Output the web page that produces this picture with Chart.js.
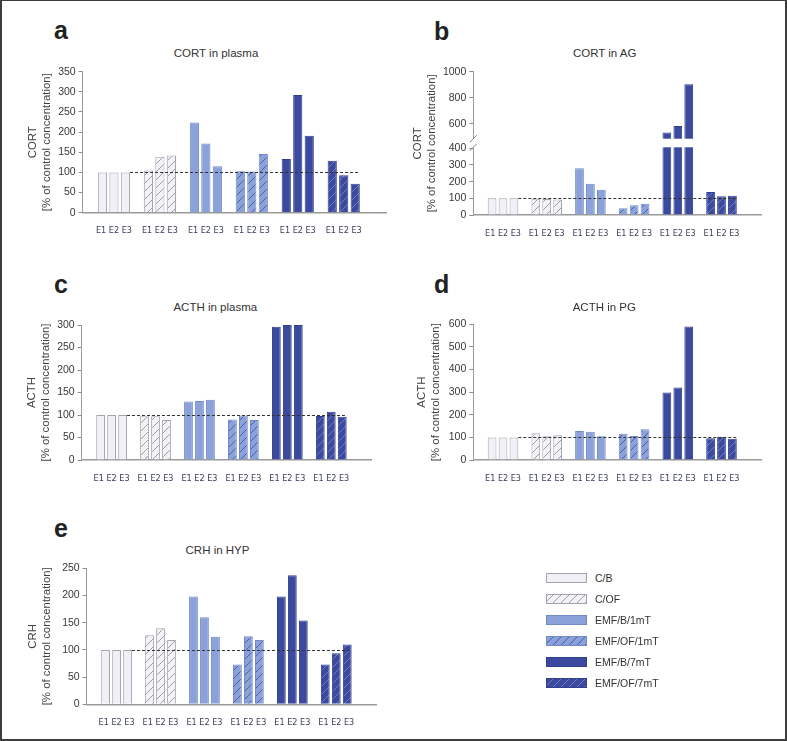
<!DOCTYPE html>
<html>
<head>
<meta charset="utf-8">
<script src="https://cdn.jsdelivr.net/npm/chart.js@4.4.1/dist/chart.umd.min.js"></script>
<style>
  html, body { margin: 0; padding: 0; background: #fff; }
  #page { position: relative; width: 787px; height: 741px; overflow: hidden;
          font-family: "Liberation Sans", Arial, sans-serif; color: #333; }
  #frame { position: absolute; left: 0; top: 0; width: 787px; height: 741px; box-sizing: border-box;
           border: 2px solid #3d3d3d; border-top-width: 1px; pointer-events: none; }
  .letter { position: absolute; font: bold 25px/25px "Liberation Sans", Arial, sans-serif; color: #222; }
  .ptitle { position: absolute; font-size: 11.5px; color: #333; white-space: nowrap; transform: translate(-50%, -50%); }
  .lrow { position: absolute; left: 546px; height: 12px; display: flex; align-items: center; font-size: 10.5px; color: #333; }
  .lrow canvas { display: block; margin-right: 8px; }
</style>
</head>
<body>
<div id="page"><div id="frame"></div></div>
<script>
const expLabels = ['E1', 'E2', 'E3'];
const groupNames = ['C/B', 'C/OF', 'EMF/B/1mT', 'EMF/OF/1mT', 'EMF/B/7mT', 'EMF/OF/7mT'];
const controlLevel = 100;
const unitLabel = '[% of control concentration]';

// one row per group: [E1, E2, E3]
const cortPlasma = [[100, 100, 100], [105, 139, 142], [224, 172, 115], [103, 102, 146], [133, 292, 191], [129, 93, 72]];
const cortPlasmaTicks = [0, 50, 100, 150, 200, 250, 300, 350];

const cortAG = [[100, 100, 100], [97, 96, 93], [280, 188, 152], [40, 58, 68], [534, 585, 904], [138, 112, 116]];
const cortAGTicks = [0, 100, 200, 300, 400, 600, 800, 1000];
const cortAGBreak = [400, 495];

const acthPlasma = [[100, 100, 100], [97, 97, 89], [130, 131, 134], [90, 99, 89], [296, 300, 300], [98, 107, 96]];
const acthPlasmaTicks = [0, 50, 100, 150, 200, 250, 300];

const acthPG = [[100, 100, 100], [118, 105, 109], [128, 125, 105], [116, 106, 136], [298, 321, 590], [96, 103, 94]];
const acthPGTicks = [0, 100, 200, 300, 400, 500, 600];

const crhHYP = [[100, 100, 100], [127, 140, 118], [198, 160, 124], [73, 125, 118], [198, 237, 154], [73, 94, 110]];
const crhHYPTicks = [0, 50, 100, 150, 200, 250];

const groupStyle = [
  { fill: '#f0f0f6', border: '#a4a4ae' },
  { fill: '#f3f3f7', border: '#a4a4ae', hatch: '#9c9ca6' },
  { fill: '#8ba1d9', border: '#7189c8' },
  { fill: '#8ba1d9', border: '#7189c8', hatch: '#4c61ab' },
  { fill: '#3b4a9e', border: '#303f8c' },
  { fill: '#3b4a9e', border: '#303f8c', hatch: '#6b7bc2' },
];

// layout: box = [left, top, right, bottom] of the plot area
const panels = [
  { letter: 'a', letterX: 54, letterBase: 39.5, title: 'CORT in plasma', titleX: 216, titleY: 52.7,
    axisName: 'CORT', values: cortPlasma, ticks: cortPlasmaTicks, nameX: 33, box: [82.7, 71.7, 386, 212.7] },
  { letter: 'b', letterX: 434, letterBase: 40, title: 'CORT in AG', titleX: 604.7, titleY: 53.3,
    axisName: 'CORT', values: cortAG, ticks: cortAGTicks, brk: cortAGBreak, brkPos: [0.4655, 0.5394],
    nameX: 418.3, box: [473.3, 71.7, 761.7, 215] },
  { letter: 'c', letterX: 54, letterBase: 293.5, title: 'ACTH in plasma', titleX: 215.3, titleY: 306.7,
    axisName: 'ACTH', values: acthPlasma, ticks: acthPlasmaTicks, nameX: 31.7, box: [81.7, 325, 371.7, 460] },
  { letter: 'd', letterX: 434, letterBase: 293.5, title: 'ACTH in PG', titleX: 604.3, titleY: 306.7,
    axisName: 'ACTH', values: acthPG, ticks: acthPGTicks, nameX: 421.7, box: [473.3, 324.3, 761.7, 460] },
  { letter: 'e', letterX: 54, letterBase: 537, title: 'CRH in HYP', titleX: 217.5, titleY: 550,
    axisName: 'CRH', values: crhHYP, ticks: crhHYPTicks, nameX: 33.3, box: [86.7, 568.3, 376.7, 704.3] },
];

const xMin = -0.68;
const xMax = 5.92;
const tickFont = { family: '"Liberation Sans", Arial, sans-serif', size: 10.5 };
const expFont = { family: '"Liberation Sans Narrow", "DejaVu Sans Condensed", Arial, sans-serif', size: 9 };
const nameFont = { family: '"Liberation Sans", Arial, sans-serif', size: 11.4, lineHeight: 1.2 };

function hatch(bg, line) {
  const c = document.createElement('canvas');
  c.width = 8; c.height = 8;
  const g = c.getContext('2d');
  g.fillStyle = bg;
  g.fillRect(0, 0, 8, 8);
  g.strokeStyle = line;
  g.lineWidth = 1;
  g.beginPath();
  g.moveTo(0, 8); g.lineTo(8, 0);
  g.moveTo(-1, 1); g.lineTo(1, -1);
  g.moveTo(7, 9); g.lineTo(9, 7);
  g.stroke();
  return g.createPattern(c, 'repeat');
}

const fills = groupStyle.map(s => (s.hatch ? hatch(s.fill, s.hatch) : s.fill));
const borders = groupStyle.map(s => s.border);

// linear scale with a gap between two value ranges
const BaseLinear = Chart.LinearScale || Chart.registry.getScale('linear');
class BrokenLinearScale extends BaseLinear {
  getPixelForValue(value) {
    const [v0, v1] = this.options.breakRange;
    const [f0, f1] = this.options.breakPos;
    let f;
    if (value <= v0) f = (value - this.min) / (v0 - this.min) * f0;
    else if (value <= v1) f = f0 + (value - v0) / (v1 - v0) * (f1 - f0);
    else f = f1 + (value - v1) / (this.max - v1) * (1 - f1);
    return this.bottom - f * (this.bottom - this.top);
  }
}
BrokenLinearScale.id = 'brokenLinear';
BrokenLinearScale.defaults = {};
Chart.register(BrokenLinearScale);

const refLinePlugin = {
  id: 'refLine',
  afterDatasetsDraw(chart, args, opts) {
    const bars = chart.getDatasetMeta(chart.data.datasets.length - 1).data;
    const first = bars[0];
    const last = bars[bars.length - 1];
    const y = Math.round(chart.scales.y.getPixelForValue(opts.value)) + 0.5;
    const ctx = chart.ctx;
    ctx.save();
    ctx.strokeStyle = '#333';
    ctx.lineWidth = 1;
    ctx.setLineDash([3, 2]);
    ctx.beginPath();
    ctx.moveTo(first.x + first.width / 2, y);
    ctx.lineTo(last.x + last.width / 2, y);
    ctx.stroke();
    ctx.restore();
  }
};

const axisBreakPlugin = {
  id: 'axisBreak',
  afterDatasetsDraw(chart) {
    const s = chart.scales.y;
    if (!s.options.breakRange) return;
    const [v0, v1] = s.options.breakRange;
    const yLow = s.getPixelForValue(v0);
    const yHigh = s.getPixelForValue(v1);
    const { left, right } = chart.chartArea;
    const ctx = chart.ctx;
    ctx.save();
    ctx.fillStyle = '#fff';
    ctx.fillRect(left - 1.5, yHigh + 1, right - left + 3, yLow - yHigh - 2);
    ctx.strokeStyle = '#888';
    ctx.lineWidth = 1;
    [yHigh + 1, yLow - 1].forEach(y => {
      ctx.beginPath();
      ctx.moveTo(left - 3.5, y + 3.5);
      ctx.lineTo(left + 3.5, y - 3.5);
      ctx.stroke();
    });
    ctx.restore();
  }
};

const page = document.getElementById('page');

function addText(cls, text, css) {
  const d = document.createElement('div');
  d.className = cls;
  d.textContent = text;
  Object.assign(d.style, css);
  page.appendChild(d);
}

function makePanel(p) {
  const [bl, bt, br, bb] = p.box;
  const lh = nameFont.size * nameFont.lineHeight;
  const left = Math.round(p.nameX - lh / 2 - 6);
  const top = Math.round(bt - 12);
  const width = Math.round(br + 6 - left);
  const height = Math.round(bb + 24 - top);

  const canvas = document.createElement('canvas');
  canvas.width = width;
  canvas.height = height;
  canvas.style.cssText = `position:absolute;left:${left}px;top:${top}px;width:${width}px;height:${height}px`;
  page.appendChild(canvas);

  const yw = bl - left;
  const xh = height - (bb - top);

  const datasets = expLabels.map((lab, k) => ({
    label: lab,
    data: p.values.map((g, i) => ({ x: i, y: g[k] })),
    backgroundColor: fills,
    borderColor: borders,
    borderWidth: 1,
    categoryPercentage: 0.75,
    barPercentage: 0.8,
  }));

  const yScale = {
    type: p.brk ? 'brokenLinear' : 'linear',
    min: p.ticks[0],
    max: p.ticks[p.ticks.length - 1],
    afterBuildTicks: s => { s.ticks = p.ticks.map(v => ({ value: v })); },
    afterFit: s => { s.width = yw; },
    ticks: { callback: v => String(v), font: tickFont, color: '#383838', padding: 3, autoSkip: false },
    grid: { drawOnChartArea: false, drawTicks: true, tickLength: 4, color: '#8c8c8c' },
    border: { color: '#9a9a9a', width: 1 },
    title: {
      display: true,
      text: [p.axisName, unitLabel],
      font: nameFont,
      color: '#404040',
      padding: { top: p.nameX - left - lh / 2, bottom: 0 },
    },
  };
  if (p.brk) {
    yScale.breakRange = p.brk;
    yScale.breakPos = p.brkPos;
  }

  new Chart(canvas, {
    type: 'bar',
    data: { datasets },
    options: {
      responsive: false,
      animation: false,
      events: [],
      layout: { padding: { top: bt - top, right: left + width - br, left: 0, bottom: 0 } },
      plugins: {
        legend: { display: false },
        tooltip: { enabled: false },
        refLine: { value: controlLevel },
      },
      scales: {
        x: {
          type: 'linear',
          min: xMin,
          max: xMax,
          offset: false,
          afterBuildTicks: s => { s.ticks = p.values.map((g, i) => ({ value: i })); },
          afterFit: s => { s.height = xh; },
          ticks: { callback: () => expLabels.join(' '), font: expFont, color: '#3a3f58', padding: 5, maxRotation: 0, autoSkip: false },
          grid: { display: false, offset: false },
          border: { color: '#9a9a9a', width: 1.5 },
        },
        y: yScale,
      },
    },
    plugins: [axisBreakPlugin, refLinePlugin],
  });

  addText('letter', p.letter, { left: p.letterX + 'px', top: (p.letterBase - 21.2) + 'px' });
  addText('ptitle', p.title, { left: p.titleX + 'px', top: p.titleY + 'px' });
}

panels.forEach(makePanel);

// legend
const legendTop = 577.7;
const legendStep = 21;
groupNames.forEach((name, i) => {
  const row = document.createElement('div');
  row.className = 'lrow';
  row.style.top = (legendTop + i * legendStep - 6) + 'px';
  const sw = document.createElement('canvas');
  sw.width = 41;
  sw.height = 10;
  const g = sw.getContext('2d');
  g.fillStyle = fills[i];
  g.fillRect(0, 0, 41, 10);
  g.strokeStyle = borders[i];
  g.lineWidth = 1;
  g.strokeRect(0.5, 0.5, 40, 9);
  row.appendChild(sw);
  const t = document.createElement('span');
  t.textContent = name;
  row.appendChild(t);
  page.appendChild(row);
});
</script>
</body>
</html>
